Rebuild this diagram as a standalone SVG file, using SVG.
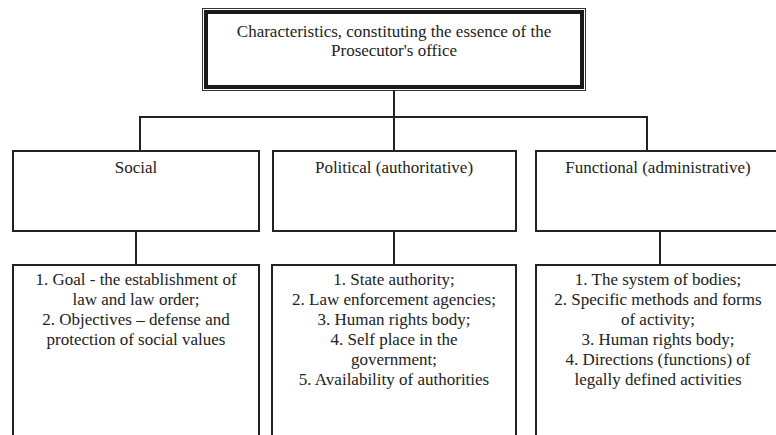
<svg xmlns="http://www.w3.org/2000/svg" width="776" height="435" viewBox="0 0 776 435">
<style>
  .box { fill: #ffffff; stroke: #222222; stroke-width: 2; }
  .conn { fill: none; stroke: #222222; stroke-width: 2; }
  text { font-family: "Liberation Serif", "Times New Roman", serif; font-size: 17px; fill: #222222; text-anchor: middle; }
</style>
<rect x="0" y="0" width="776" height="435" fill="#ffffff"/>
<g id="connectors">
  <line class="conn" x1="394" y1="90" x2="394" y2="117"/>
  <polyline class="conn" points="140,151 140,117 647,117 647,151"/>
  <line class="conn" x1="394" y1="117" x2="394" y2="151"/>
  <line class="conn" x1="136" y1="231" x2="136" y2="265"/>
  <line class="conn" x1="394" y1="231" x2="394" y2="265"/>
  <line class="conn" x1="660" y1="231" x2="660" y2="265"/>
</g>
<g id="root">
  <rect x="202.5" y="8.5" width="383" height="82" fill="#ffffff" stroke="#333333" stroke-width="1"/>
  <rect x="206" y="12" width="376" height="75" fill="#ffffff" stroke="#1a1a1a" stroke-width="4"/>
  <text x="394" y="37">Characteristics, constituting the essence of the</text>
  <text x="394" y="56">Prosecutor's office</text>
</g>
<g id="social">
  <rect class="box" x="13" y="151" width="246" height="80"/>
  <text x="136" y="173">Social</text>
</g>
<g id="political">
  <rect class="box" x="273" y="151" width="243" height="80"/>
  <text x="394" y="173">Political (authoritative)</text>
</g>
<g id="functional">
  <rect class="box" x="536" y="151" width="250" height="80"/>
  <text x="658" y="173">Functional (administrative)</text>
</g>
<g id="social-details">
  <rect class="box" x="13" y="265" width="246" height="180"/>
  <text x="136" y="285">1. Goal - the establishment of</text>
  <text x="136" y="305">law and law order;</text>
  <text x="136" y="325">2. Objectives – defense and</text>
  <text x="136" y="345">protection of social values</text>
</g>
<g id="political-details">
  <rect class="box" x="272" y="265" width="244" height="180"/>
  <text x="394" y="285">1. State authority;</text>
  <text x="394" y="305">2. Law enforcement agencies;</text>
  <text x="394" y="325">3. Human rights body;</text>
  <text x="394" y="345">4. Self place in the</text>
  <text x="394" y="365">government;</text>
  <text x="394" y="385">5. Availability of authorities</text>
</g>
<g id="functional-details">
  <rect class="box" x="536" y="265" width="250" height="180"/>
  <text x="658" y="285">1. The system of bodies;</text>
  <text x="658" y="305">2. Specific methods and forms</text>
  <text x="658" y="325">of activity;</text>
  <text x="658" y="345">3. Human rights body;</text>
  <text x="658" y="365">4. Directions (functions) of</text>
  <text x="658" y="385">legally defined activities</text>
</g>
</svg>
